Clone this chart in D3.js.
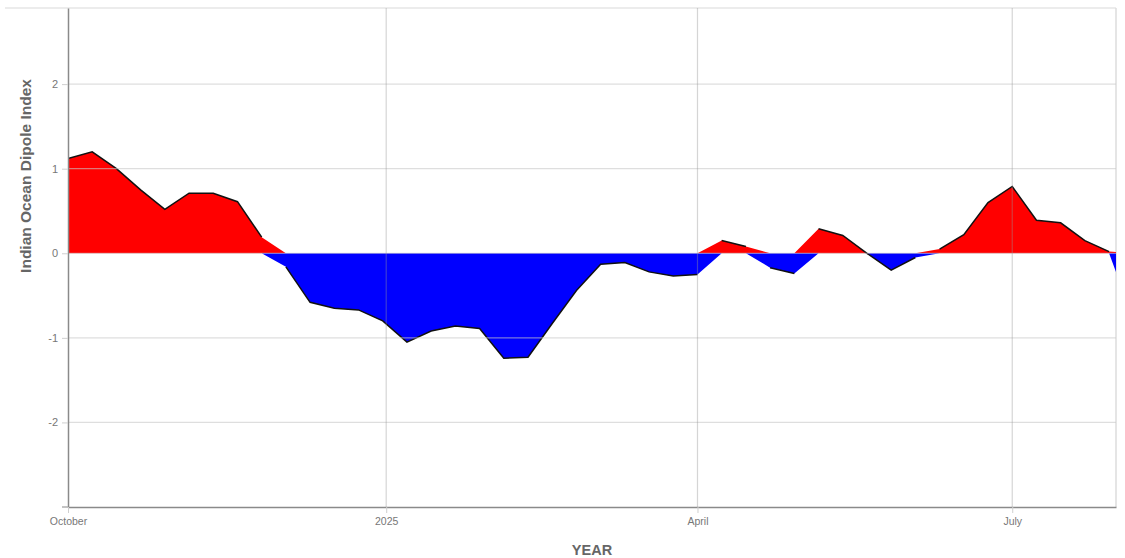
<!DOCTYPE html>
<html>
<head>
<meta charset="utf-8">
<script src="https://cdn.jsdelivr.net/npm/d3@7"></script>
<style>
  html, body { margin: 0; padding: 0; background: #fff; }
  svg { display: block; font-family: "Liberation Sans", Arial, sans-serif; }
</style>
</head>
<body>
<svg id="chart" width="1125" height="558"></svg>
<script>
// Weekly Indian Ocean Dipole index, Oct 2024 – Aug 2025
const weekDates = [
  "2024-10-01","2024-10-08","2024-10-15","2024-10-22","2024-10-29",
  "2024-11-05","2024-11-12","2024-11-19","2024-11-26",
  "2024-12-03","2024-12-10","2024-12-17","2024-12-24","2024-12-31",
  "2025-01-07","2025-01-14","2025-01-21","2025-01-28",
  "2025-02-04","2025-02-11","2025-02-18","2025-02-25",
  "2025-03-04","2025-03-11","2025-03-18","2025-03-25",
  "2025-04-01","2025-04-08","2025-04-15","2025-04-22","2025-04-29",
  "2025-05-06","2025-05-13","2025-05-20","2025-05-27",
  "2025-06-03","2025-06-10","2025-06-17","2025-06-24",
  "2025-07-01","2025-07-08","2025-07-15","2025-07-22","2025-07-29",
  "2025-08-05"
];
const iodValues = [
  1.12, 1.20, 1.00, 0.75, 0.52,
  0.71, 0.71, 0.61, 0.19,
  -0.16, -0.58, -0.65, -0.67, -0.80,
  -1.05, -0.92, -0.86, -0.89,
  -1.24, -1.23, -0.83, -0.44,
  -0.13, -0.11, -0.22, -0.27,
  -0.25, 0.15, 0.08, -0.17, -0.24,
  0.29, 0.21, 0.00, -0.20,
  -0.05, 0.05, 0.22, 0.60,
  0.79, 0.39, 0.36, 0.15, 0.02,
  -0.78
];
const xTickDates = ["2024-10-01", "2025-01-01", "2025-04-01", "2025-07-01"];
const xTickLabels = ["October", "2025", "April", "July"];
const yTicks = [-2, -1, 0, 1, 2];
const yTickLabels = ["-2", "-1", "0", "1", "2"];
const xDomain = ["2024-10-01", "2025-07-31"];
const yDomain = [-3, 2.9];

const parse = d3.utcParse("%Y-%m-%d");
const data = weekDates.map((d, i) => ({ date: parse(d), value: iodValues[i] }));

const margin = { left: 68, right: 9, top: 8, bottom: 51 };
const W = 1125, H = 558;
const svg = d3.select("#chart");

const x = d3.scaleUtc().domain(xDomain.map(parse)).range([margin.left, W - margin.right]);
const y = d3.scaleLinear().domain(yDomain).range([H - margin.bottom, margin.top]);

svg.append("defs").append("clipPath").attr("id", "plot-clip")
  .append("rect")
  .attr("x", margin.left).attr("y", margin.top)
  .attr("width", x.range()[1] - margin.left)
  .attr("height", y.range()[0] - margin.top);

// outer frame lines (top and right)
svg.append("line")
  .attr("x1", 5).attr("x2", x.range()[1])
  .attr("y1", margin.top).attr("y2", margin.top)
  .attr("stroke", "#e6e6e6").attr("stroke-width", 1.5);
svg.append("line")
  .attr("x1", x.range()[1]).attr("x2", x.range()[1])
  .attr("y1", margin.top).attr("y2", y.range()[0])
  .attr("stroke", "#dcdcdc").attr("stroke-width", 1.5);

const plot = svg.append("g").attr("clip-path", "url(#plot-clip)");

// positive (red) and negative (blue) parts
const posArea = d3.area()
  .x(d => x(d.date)).y0(y(0)).y1(d => y(Math.max(0, d.value)));
const negArea = d3.area()
  .x(d => x(d.date)).y0(y(0)).y1(d => y(Math.min(0, d.value)));

plot.append("path").datum(data).attr("d", posArea).attr("fill", "#ff0000");
plot.append("path").datum(data).attr("d", negArea).attr("fill", "#0000ff");

// grid lines
const grid = svg.append("g");
grid.selectAll("line.h").data(yTicks).join("line")
  .attr("class", "h")
  .attr("x1", margin.left).attr("x2", x.range()[1])
  .attr("y1", d => y(d)).attr("y2", d => y(d))
  .attr("stroke", "rgba(200,200,200,0.6)").attr("stroke-width", 1.2);
grid.selectAll("line.v").data(xTickDates.slice(1)).join("line")
  .attr("class", "v")
  .attr("x1", d => x(parse(d))).attr("x2", d => x(parse(d)))
  .attr("y1", margin.top).attr("y2", y.range()[0])
  .attr("stroke", "rgba(150,150,150,0.4)").attr("stroke-width", 1.2);

// outline along the data, split by sign
const posLine = d3.line().defined(d => d.value >= 0)
  .x(d => x(d.date)).y(d => y(d.value));
const negLine = d3.line().defined(d => d.value <= 0)
  .x(d => x(d.date)).y(d => y(d.value));
plot.append("path").datum(data).attr("d", posLine)
  .attr("fill", "none").attr("stroke", "#111").attr("stroke-width", 1.5);
plot.append("path").datum(data).attr("d", negLine)
  .attr("fill", "none").attr("stroke", "#111").attr("stroke-width", 1.5);

// axes
const yAxis = d3.axisLeft(y).tickValues(yTicks).tickSize(6).tickSizeOuter(0).tickPadding(4)
  .tickFormat((d, i) => yTickLabels[i]);
const gy = svg.append("g").attr("transform", `translate(${margin.left},0)`).call(yAxis);
gy.select(".domain").attr("stroke", "#8a8a8a").attr("stroke-width", 1.5);
gy.selectAll(".tick line").attr("stroke", "#cfcfcf");
gy.selectAll(".tick text").attr("fill", "#777").attr("font-size", 11)
  .attr("font-family", "'Liberation Sans', Arial, sans-serif");

const xAxis = d3.axisBottom(x).tickValues(xTickDates.map(parse)).tickSize(6).tickSizeOuter(0)
  .tickPadding(5)
  .tickFormat((d, i) => xTickLabels[i]);
const gx = svg.append("g").attr("transform", `translate(0,${y.range()[0]})`).call(xAxis);
gx.select(".domain").attr("stroke", "#8a8a8a").attr("stroke-width", 1.5);
gx.selectAll(".tick line").attr("stroke", "#cfcfcf");
gx.selectAll(".tick text").attr("fill", "#777").attr("font-size", 10.5)
  .attr("font-family", "'Liberation Sans', Arial, sans-serif");
// small outer tick at the lower left corner
svg.append("line")
  .attr("x1", margin.left - 6).attr("x2", margin.left)
  .attr("y1", y.range()[0]).attr("y2", y.range()[0])
  .attr("stroke", "#b0b0b0").attr("stroke-width", 1.5);

// axis titles
svg.append("text")
  .attr("transform", "translate(31,176) rotate(-90)")
  .attr("text-anchor", "middle")
  .attr("font-size", 15.5).attr("font-weight", "bold").attr("fill", "#666")
  .text("Indian Ocean Dipole Index");
svg.append("text")
  .attr("x", (margin.left + x.range()[1]) / 2).attr("y", 555)
  .attr("text-anchor", "middle")
  .attr("font-size", 14.5).attr("font-weight", "bold").attr("fill", "#666")
  .text("YEAR");
</script>
</body>
</html>
